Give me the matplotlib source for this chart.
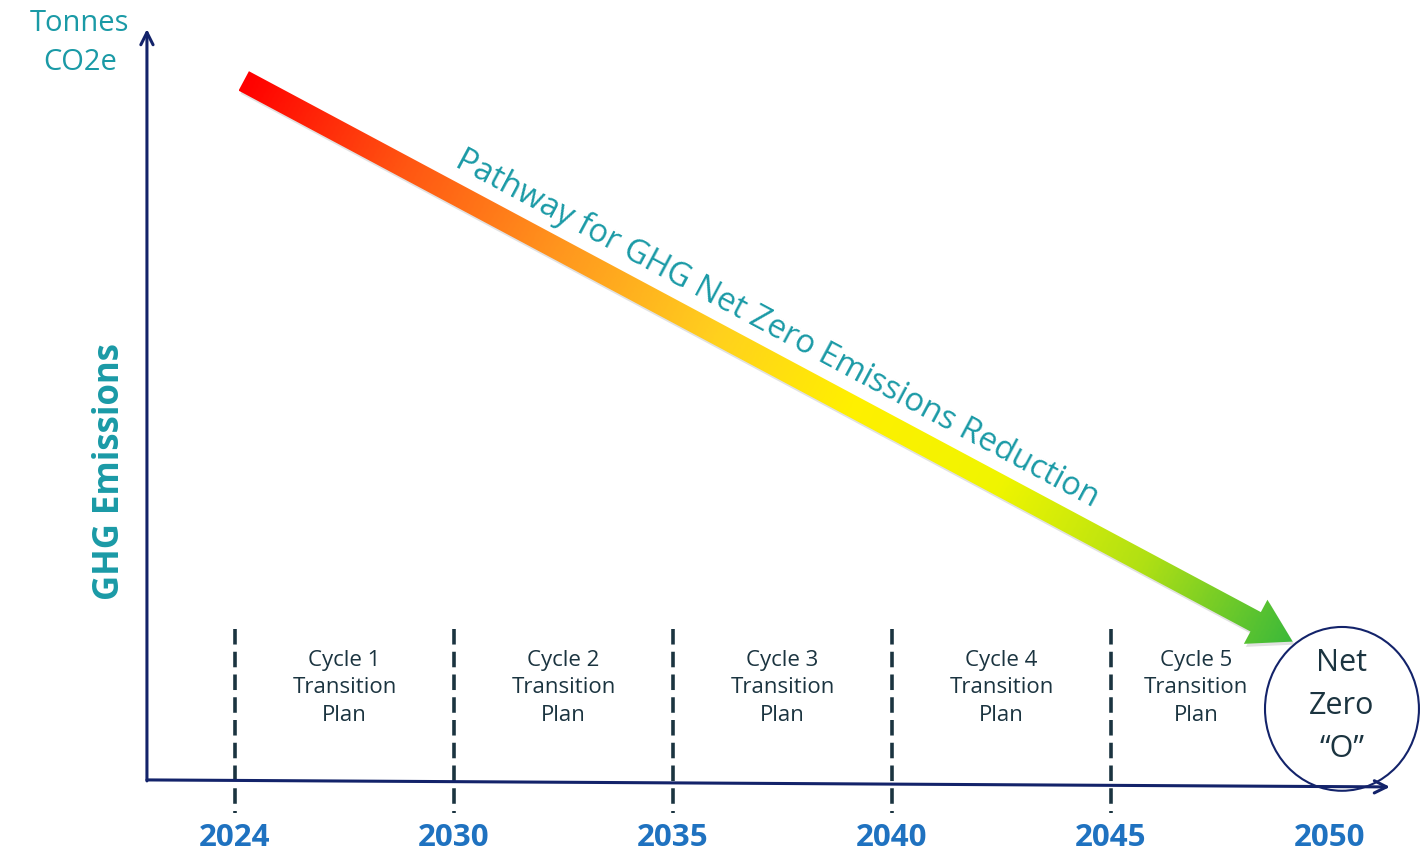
import numpy as np
import matplotlib.pyplot as plt
from matplotlib.patches import Polygon, Ellipse
from matplotlib.colors import LinearSegmentedColormap

plt.rcParams['font.family'] = ['Open Sans', 'DejaVu Sans']

# timeline (categorical positions 0..5)
years = ["2024", "2030", "2035", "2040", "2045", "2050"]
cycle_labels = ["Cycle 1\nTransition\nPlan", "Cycle 2\nTransition\nPlan",
                "Cycle 3\nTransition\nPlan", "Cycle 4\nTransition\nPlan",
                "Cycle 5\nTransition\nPlan"]
cycle_pos = [0.5, 1.5, 2.5, 3.5, 4.39]

# emissions pathway (relative index, 2024 = 100)
pathway_x = [0.04, 4.83]
pathway_y = [100.0, 19.9]

grad_stops = [(0.0, "#ff0000"), (0.15, "#ff5512"), (0.3, "#ff961e"),
              (0.45, "#ffd01e"), (0.58, "#fff000"), (0.72, "#f0f500"),
              (0.86, "#b0e014"), (1.0, "#3cb93a")]

teal = "#1a9aa6"
navy = "#13236a"
slate = "#1b3440"
blue = "#1f72c0"

fig = plt.figure(figsize=(14.23, 8.54), dpi=100)
ax = fig.add_axes([0, 0, 1, 1])
xlim = (-1.073, 5.425)
ylim = (-10.3, 111.7)
ax.set_xlim(*xlim)
ax.set_ylim(*ylim)
ax.axis('off')

# axes arrows
ax.annotate("", xy=(-0.402, 107.4), xytext=(-0.402, 0.0),
            arrowprops=dict(arrowstyle='->', color=navy, lw=2.2,
                            mutation_scale=22, shrinkA=0, shrinkB=0))
ax.annotate("", xy=(5.274, -0.86), xytext=(-0.402, 0.14),
            arrowprops=dict(arrowstyle='->', color=navy, lw=2.2,
                            mutation_scale=22, shrinkA=0, shrinkB=0))

# dashed cycle boundaries
for i in range(5):
    ax.plot([i, i], [21.7, -4.6], color=slate, lw=2.6,
            linestyle=(0, (4.3, 2.0)), zorder=2)

for i, yr in enumerate(years):
    ax.text(i, -8.0, yr, ha='center', va='center', fontsize=22.5,
            fontweight='bold', color=blue)

for x, lab in zip(cycle_pos, cycle_labels):
    ax.text(x, 13.43, lab, ha='center', va='center', fontsize=16,
            color=slate, linespacing=1.42)

# net zero circle
ax.add_patch(Ellipse((5.055, 10.29), 0.703, 23.4, fill=False,
                     ec=navy, lw=1.5, zorder=4))
ax.text(5.055, 10.86, "Net\nZero\n\u201cO\u201d", ha='center', va='center',
        fontsize=22, color=slate, linespacing=1.55, zorder=5)

# axis titles
ax.text(-0.708, 105.6, "Tonnes\nCO2e", ha='center', va='center',
        fontsize=21, color=teal, linespacing=1.45)
ax.text(-0.571, 44.3, "GHG Emissions", ha='center', va='center',
        rotation=90, fontsize=25, fontweight='bold', color=teal)

# gradient pathway arrow
p0 = ax.transData.transform((pathway_x[0], pathway_y[0]))
p1 = ax.transData.transform((pathway_x[1], pathway_y[1]))
d = p1 - p0
L = np.hypot(*d)
u = d / L
n = np.array([-u[1], u[0]])
shaft_w, head_w, head_len = 11, 25, 42
base = p1 - u * head_len
pts = np.array([p0 + n * shaft_w, base + n * shaft_w, base + n * head_w, p1,
                base - n * head_w, base - n * shaft_w, p0 - n * shaft_w])
inv = ax.transData.inverted()
data_pts = inv.transform(pts)

shadow = Polygon(inv.transform(pts + np.array([2, -3])), closed=True,
                 fc='#777777', ec='none', alpha=0.22, zorder=2)
ax.add_patch(shadow)
poly = Polygon(data_pts, closed=True, fc='none', ec='none', zorder=3)
ax.add_patch(poly)

cmap = LinearSegmentedColormap.from_list("path", grad_stops)
xmin, ymin = data_pts.min(axis=0)
xmax, ymax = data_pts.max(axis=0)
gx, gy = np.meshgrid(np.linspace(xmin, xmax, 600), np.linspace(ymin, ymax, 300))
disp = ax.transData.transform(np.column_stack([gx.ravel(), gy.ravel()]))
t = np.clip(((disp - p0) @ u) / L, 0, 1).reshape(gx.shape)
im = ax.imshow(t, extent=(xmin, xmax, ymin, ymax), origin='lower', cmap=cmap,
               vmin=0, vmax=1, aspect='auto', interpolation='bilinear', zorder=3)
im.set_clip_path(poly)

angle = np.degrees(np.arctan2(d[1], d[0]))
tpos = inv.transform((p0 + p1) / 2 + n * 33 - u * 8)
ax.text(tpos[0], tpos[1], "Pathway for GHG Net Zero Emissions Reduction",
        rotation=angle, rotation_mode='anchor', ha='center', va='center',
        fontsize=23.5, color=teal, zorder=5)

ax.set_xlim(*xlim)
ax.set_ylim(*ylim)

fig.savefig("out.png", dpi=100)
